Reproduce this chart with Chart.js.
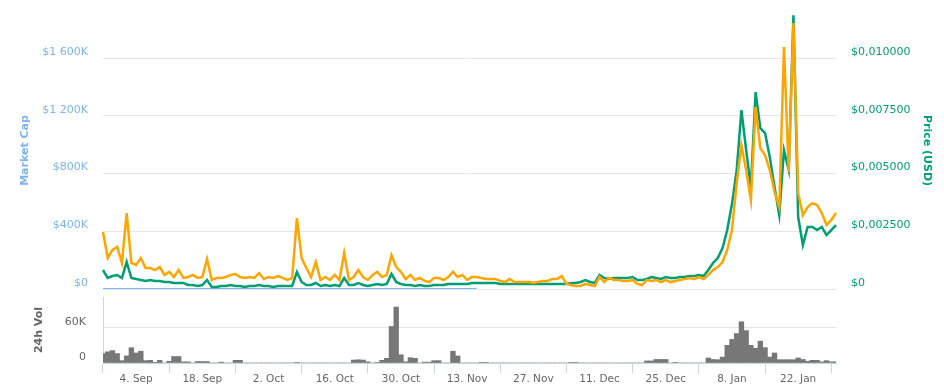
<!DOCTYPE html>
<html>
<head>
<meta charset="utf-8">
<script src="https://cdn.jsdelivr.net/npm/chart.js@4.4.0/dist/chart.umd.min.js"></script>
<style>
  html, body { margin: 0; padding: 0; background: #fff; }
  #wrap { position: relative; width: 944px; height: 391px; }
  #top { position: absolute; left: 0; top: 0; width: 944px; height: 296px; }
  #bottom { position: absolute; left: 0; top: 290px; width: 944px; height: 101px; }
</style>
</head>
<body>
<div id="wrap">
  <div id="top"><canvas id="priceChart"></canvas></div>
  <div id="bottom"><canvas id="volChart"></canvas></div>
</div>
<script>
// one point per day, 28 Aug 2017 -> 30 Jan 2018
const START_DATE = Date.UTC(2017, 7, 28);
const DAY_COUNT = 156;
const MONTHS = ["Jan", "Feb", "Mar", "Apr", "May", "Jun", "Jul", "Aug", "Sep", "Oct", "Nov", "Dec"];

const xTickLabels = ["4. Sep", "18. Sep", "2. Oct", "16. Oct", "30. Oct", "13. Nov",
  "27. Nov", "11. Dec", "25. Dec", "8. Jan", "22. Jan"];

const capTicks = [0, 400000, 800000, 1200000, 1600000];
const priceTicks = [0, 0.0025, 0.005, 0.0075, 0.01];
const volTicks = [0, 60];

// market cap (USD) - only reported as 0 until mid November
const marketCap = [
  0, 0, 0, 0, 0, 0, 0, 0, 0, 0, 0, 0, 0, 0, 0, 0, 0, 0, 0, 0,
  0, 0, 0, 0, 0, 0, 0, 0, 0, 0, 0, 0, 0, 0, 0, 0, 0, 0, 0, 0,
  0, 0, 0, 0, 0, 0, 0, 0, 0, 0, 0, 0, 0, 0, 0, 0, 0, 0, 0, 0,
  0, 0, 0, 0, 0, 0, 0, 0, 0, 0, 0, 0, 0, 0, 0, 0, 0, 0, 0, 0
];

// price in USD
const priceUsd = [
  0.000823, 0.000476, 0.000563, 0.000606, 0.000476, 0.001169, 0.000476, 0.000433, 0.000390, 0.000346,
  0.000390, 0.000346, 0.000346, 0.000303, 0.000303, 0.000260, 0.000260, 0.000260, 0.000173, 0.000173,
  0.000130, 0.000173, 0.000390, 0.000087, 0.000087, 0.000130, 0.000130, 0.000173, 0.000130, 0.000130,
  0.000087, 0.000130, 0.000130, 0.000173, 0.000130, 0.000130, 0.000087, 0.000130, 0.000130, 0.000130,
  0.000130, 0.000736, 0.000303, 0.000173, 0.000173, 0.000260, 0.000130, 0.000173, 0.000130, 0.000173,
  0.000130, 0.000476, 0.000173, 0.000173, 0.000260, 0.000173, 0.000130, 0.000173, 0.000216, 0.000173,
  0.000216, 0.000649, 0.000303, 0.000216, 0.000173, 0.000173, 0.000130, 0.000173, 0.000130, 0.000130,
  0.000173, 0.000173, 0.000173, 0.000216, 0.000216, 0.000216, 0.000216, 0.000216, 0.000260, 0.000260,
  0.000260, 0.000260, 0.000260, 0.000260, 0.000216, 0.000216, 0.000216, 0.000216, 0.000216, 0.000216,
  0.000216, 0.000216, 0.000216, 0.000216, 0.000216, 0.000216, 0.000216, 0.000216, 0.000216, 0.000260,
  0.000260, 0.000303, 0.000390, 0.000303, 0.000260, 0.000606, 0.000476, 0.000433, 0.000476, 0.000476,
  0.000476, 0.000476, 0.000519, 0.000390, 0.000390, 0.000433, 0.000519, 0.000476, 0.000433, 0.000519,
  0.000476, 0.000476, 0.000519, 0.000519, 0.000563, 0.000563, 0.000606, 0.000563, 0.000823, 0.001126,
  0.001342, 0.001775, 0.002554, 0.003680, 0.005152, 0.007749, 0.006017, 0.004416, 0.008528, 0.006970,
  0.006753, 0.005714, 0.004416, 0.003203, 0.006017, 0.005152, 0.011861, 0.003117, 0.001905, 0.002684,
  0.002684, 0.002554, 0.002684, 0.002338, 0.002554, 0.002771
];

// price in satoshi (hidden axis)
const priceSat = [
  24.7, 13.4, 16.9, 18.2, 11.3, 32.9, 11.3, 10.4, 13.4, 9.1,
  9.1, 8.2, 9.5, 6.1, 7.4, 5.2, 8.2, 4.8, 5.2, 6.1,
  4.8, 5.2, 13.0, 3.9, 4.8, 4.8, 5.2, 6.1, 6.5, 5.2,
  4.8, 5.2, 4.8, 6.9, 4.3, 5.2, 4.8, 5.6, 4.8, 3.9,
  4.8, 30.7, 13.4, 9.1, 5.2, 11.7, 3.9, 5.2, 3.9, 6.1,
  3.9, 15.6, 3.9, 5.2, 8.2, 5.2, 3.9, 6.1, 7.4, 5.2,
  6.1, 14.7, 9.5, 7.4, 4.3, 6.1, 3.9, 4.8, 3.5, 3.0,
  4.8, 4.8, 3.9, 5.2, 7.4, 5.2, 6.1, 3.9, 5.2, 5.2,
  4.8, 4.3, 4.3, 4.3, 3.5, 3.0, 4.3, 3.0, 3.0, 3.0,
  3.0, 2.6, 3.0, 3.5, 3.5, 4.3, 4.3, 5.6, 2.2, 1.7,
  1.3, 1.3, 2.2, 1.7, 1.3, 5.2, 3.0, 4.8, 3.9, 3.9,
  3.5, 3.5, 3.9, 2.2, 1.7, 3.9, 3.5, 3.9, 3.0, 3.9,
  3.0, 3.5, 3.9, 4.3, 4.8, 4.3, 5.2, 4.3, 6.1, 8.2,
  9.5, 11.7, 16.9, 25.5, 45.9, 62.3, 51.5, 38.5, 78.8, 61.0,
  58.0, 51.5, 42.0, 35.5, 104.8, 50.6, 115.2, 41.6, 32.0, 35.5,
  37.2, 36.4, 32.9, 27.7, 29.9, 32.9
];

// 24h volume, thousands USD
const volumeK = [
  16, 19, 21, 16, 4, 12, 26, 17, 20, 4,
  4.5, 0.5, 4.5, 0, 3, 11, 11, 2, 2, 0,
  2.5, 2.5, 2.5, 0, 0, 1.5, 0, 0, 4.5, 4.5,
  0, 0, 0, 0, 0, 0, 0, 0, 0, 0,
  0, 1, 0, 0, 0, 0, 0, 0, 0, 0,
  0, 0, 0, 5, 5.5, 5, 2, 0, 1, 4.5,
  8, 62, 95, 14, 2, 9, 8, 0, 1.5, 1.5,
  4, 4, 0, 0, 20, 12, 0, 0, 0, 0,
  1, 1, 0, 0, 0, 0, 0, 0, 0, 0,
  0, 0, 0, 0, 0, 0, 0, 0, 0, 1,
  1, 0, 0, 0, 0, 0, 0, 0, 0, 0,
  0, 0, 0, 0, 0, 3.5, 3.5, 6, 6, 6,
  0, 1, 0, 0, 0, 0, 0, 0, 8.5, 6,
  5.6, 10, 30, 40, 50, 70, 55, 30, 25, 37,
  26, 10, 17, 5.6, 5.6, 5.6, 5.6, 8.5, 6, 3,
  4.5, 4.5, 2, 4, 2, 2
];

const dayLabels = [];
for (let i = 0; i < DAY_COUNT; i++) {
  const d = new Date(START_DATE + i * 86400000);
  dayLabels.push(d.getUTCDate() + ". " + MONTHS[d.getUTCMonth()]);
}

const FONT = "'DejaVu Sans', Verdana, sans-serif";
const GRID = "#e6e6e6";
const AXIS_LINE = "#ccd6eb";

// fixed tick lists instead of stepSize (stepSize gave only the 0 tick)
function useTicks(list) {
  return scale => { scale.ticks = list.map(v => ({ value: v })); };
}

function fmtCap(v) {
  if (v === 0) return "$0";
  const k = String(Math.round(v / 1000)).replace(/\B(?=(\d{3})+(?!\d))/g, " ");
  return "$" + k + "K";
}

function fmtPrice(v) {
  if (v === 0) return "$0";
  return "$" + v.toFixed(6).replace(".", ",");
}

new Chart(document.getElementById("priceChart"), {
  type: "line",
  data: {
    labels: dayLabels,
    datasets: [
      {
        label: "Price (BTC)",
        data: priceSat,
        yAxisID: "yBtc",
        borderColor: "#ffa500",
        borderWidth: 2.5,
        pointRadius: 0,
        tension: 0,
        order: 1
      },
      {
        label: "Price (USD)",
        data: priceUsd,
        yAxisID: "yPrice",
        borderColor: "#009e73",
        borderWidth: 2.5,
        pointRadius: 0,
        tension: 0,
        order: 2
      },
      {
        label: "Market Cap",
        data: marketCap,
        yAxisID: "yCap",
        borderColor: "#7cb5ec",
        borderWidth: 2,
        pointRadius: 0,
        tension: 0,
        order: 3
      }
    ]
  },
  options: {
    responsive: true,
    maintainAspectRatio: false,
    animation: false,
    layout: { padding: { top: 12, bottom: 7, left: 0, right: 0 } },
    plugins: { legend: { display: false }, tooltip: { enabled: false } },
    scales: {
      x: { type: "category", display: false, offset: false },
      yCap: {
        position: "left",
        min: 0,
        max: 1920000,
        afterBuildTicks: useTicks(capTicks),
        afterFit: s => { s.width = 103; },
        border: { display: false },
        grid: { color: GRID, drawTicks: true, tickLength: 15, tickColor: "rgba(0,0,0,0)" },
        ticks: {
          padding: 0,
          labelOffset: -6,
          color: "#7cb5ec",
          font: { family: FONT, size: 11 },
          callback: fmtCap
        },
        title: {
          display: true,
          text: "Market Cap",
          color: "#7cb5ec",
          padding: { top: 19, bottom: 0 },
          font: { family: FONT, size: 11, weight: "bold" }
        }
      },
      yPrice: {
        position: "right",
        min: 0,
        max: 0.012,
        afterBuildTicks: useTicks(priceTicks),
        afterFit: s => { s.width = 108; },
        border: { display: false },
        grid: { drawOnChartArea: false, drawTicks: true, tickLength: 15, color: "rgba(0,0,0,0)", tickColor: "rgba(0,0,0,0)" },
        ticks: {
          padding: 0,
          labelOffset: -6,
          color: "#009e73",
          font: { family: FONT, size: 11 },
          callback: fmtPrice
        },
        title: {
          display: true,
          text: "Price (USD)",
          color: "#009e73",
          padding: { top: 11, bottom: 0 },
          font: { family: FONT, size: 11, weight: "bold" }
        }
      },
      yBtc: { display: false, min: 0, max: 120 }
    }
  }
});

new Chart(document.getElementById("volChart"), {
  type: "bar",
  data: {
    labels: dayLabels,
    datasets: [{
      label: "24h Vol",
      data: volumeK,
      backgroundColor: "#777777",
      borderWidth: 0,
      barPercentage: 1,
      categoryPercentage: 1
    }]
  },
  options: {
    responsive: true,
    maintainAspectRatio: false,
    animation: false,
    layout: { padding: { top: 7, bottom: 0, left: 0, right: 108 } },
    plugins: { legend: { display: false }, tooltip: { enabled: false } },
    scales: {
      x: {
        type: "category",
        offset: false,
        afterBuildTicks: s => {
          s.ticks = s.ticks.filter(t => xTickLabels.includes(dayLabels[t.value]));
        },
        afterFit: s => { s.height = 28; },
        border: { display: true, color: AXIS_LINE },
        grid: { drawOnChartArea: false, drawTicks: true, tickLength: 10, color: AXIS_LINE },
        ticks: {
          autoSkip: false,
          maxRotation: 0,
          padding: 0,
          color: "#666666",
          font: { family: FONT, size: 10.5 }
        }
      },
      y: {
        position: "left",
        min: 0,
        max: 112,
        afterBuildTicks: useTicks(volTicks),
        afterFit: s => { s.width = 103; },
        border: { display: true, color: AXIS_LINE },
        grid: { color: GRID, drawTicks: true, tickLength: 17, tickColor: "rgba(0,0,0,0)" },
        ticks: {
          padding: 0,
          labelOffset: -6,
          color: "#666666",
          font: { family: FONT, size: 11 },
          callback: v => (v === 0 ? "0" : v + "K")
        },
        title: {
          display: true,
          text: "24h Vol",
          color: "#666666",
          padding: { top: 33, bottom: 0 },
          font: { family: FONT, size: 11, weight: "bold" }
        }
      }
    }
  }
});
</script>
</body>
</html>
